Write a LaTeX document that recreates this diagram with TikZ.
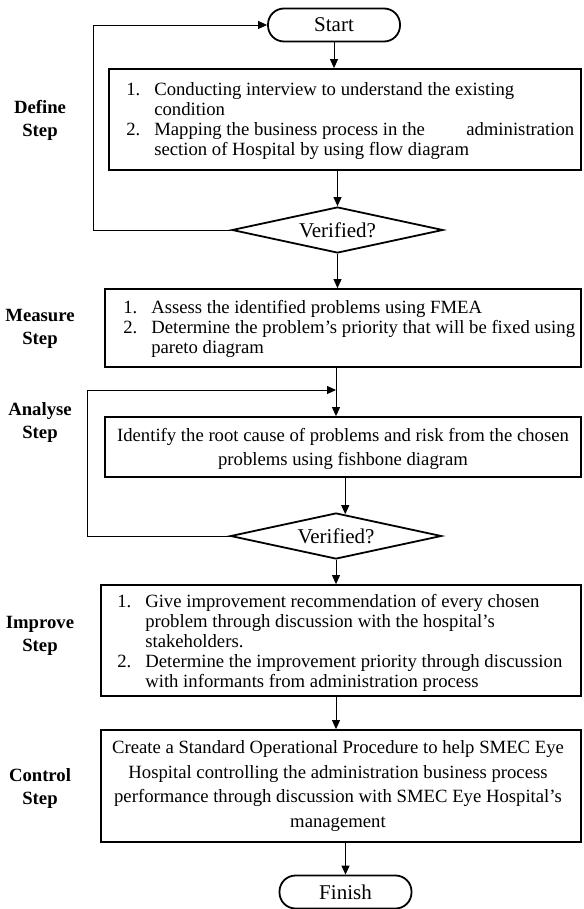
\documentclass[tikz,border=0pt]{standalone}
\usepackage{fontspec}
\setmainfont{Liberation Serif}
\usetikzlibrary{shapes.geometric,arrows.meta}
\newcommand\stepnum[1]{\makebox[28pt][l]{#1}}
\begin{document}
\begin{tikzpicture}[x=1pt,y=-1pt,
  every node/.style={font=\fontsize{18.7}{20}\selectfont},
  procbox/.style={draw,line width=1.8pt,rectangle,inner sep=0pt},
  term/.style={draw,line width=1.8pt,rectangle,rounded corners=16pt,minimum width=132pt,minimum height=33pt,inner sep=0pt,font=\fontsize{21}{24}\selectfont},
  dec/.style={draw,diamond,aspect=4.5,line width=1.8pt,minimum width=211pt,minimum height=46pt,inner sep=0pt,font=\fontsize{21}{24}\selectfont},
  arr/.style={line width=0.9pt,-{Triangle[length=9pt,width=8pt]}},
  lbl/.style={align=center,font=\bfseries\fontsize{18.7}{23}\selectfont},
  listtxt/.style={align=left,inner sep=0pt,anchor=west},
  ctrtxt/.style={align=center,inner sep=0pt}
]
\useasboundingbox (0,0) rectangle (583,909);

% terminals and decisions
\node[term] (start) at (334,25) {Start};
\node[term] (finish) at (345.5,892) {Finish};
\node[dec] (d1) at (337.5,230) {Verified?};
\node[dec] (d2) at (336,536) {Verified?};

% process boxes
\node[procbox,minimum width=472pt,minimum height=101pt] (define) at (345,119.5) {};
\node[procbox,minimum width=476pt,minimum height=78pt] (measure) at (343,328) {};
\node[procbox,minimum width=476pt,minimum height=60pt] (analyse) at (343,447) {};
\node[procbox,minimum width=480pt,minimum height=111pt] (improve) at (341,640.5) {};
\node[procbox,minimum width=480pt,minimum height=112pt] (control) at (341,786) {};

% box texts
\node[listtxt] (definetxt) at ([xshift=18pt,yshift=-2pt]define.west)
  {\stepnum{1.}Conducting interview to understand the existing\\
   \hspace*{28pt}condition\\
   \stepnum{2.}\makebox[420pt][s]{Mapping the business process in the\hfill administration}\\
   \hspace*{28pt}section of Hospital by using flow diagram};
\node[listtxt] (measuretxt) at ([xshift=19pt,yshift=-1pt]measure.west)
  {\stepnum{1.}Assess the identified problems using FMEA\\
   \stepnum{2.}Determine the problem’s priority that will be fixed using\\
   \hspace*{28pt}pareto diagram};
\node[ctrtxt,font=\fontsize{18.7}{24}\selectfont] (analysetxt) at ([yshift=-2pt]analyse.center)
  {Identify the root cause of problems and risk from the chosen\\
   problems using fishbone diagram};
\node[listtxt] (improvetxt) at ([xshift=17pt,yshift=-2pt]improve.west)
  {\stepnum{1.}Give improvement recommendation of every chosen\\
   \hspace*{28pt}problem through discussion with the hospital’s\\
   \hspace*{28pt}stakeholders.\\
   \stepnum{2.}Determine the improvement priority through discussion\\
   \hspace*{28pt}with informants from administration process};
\node[ctrtxt,font=\fontsize{18.7}{24.7}\selectfont] (controltxt) at ([xshift=-3pt]control.center)
  {Create a Standard Operational Procedure to help SMEC Eye\\
   Hospital controlling the administration business process\\
   performance through discussion with SMEC Eye Hospital’s\\
   management};

% step labels
\node[lbl] (ldefine) at (40,120) {Define\\Step};
\node[lbl] (lmeasure) at (40,329) {Measure\\Step};
\node[lbl] (lanalyse) at (40,422) {Analyse\\Step};
\node[lbl] (limprove) at (40,636) {Improve\\Step};
\node[lbl] (lcontrol) at (40,788) {Control\\Step};

% loop corners
\coordinate (l1) at (93,25);
\coordinate (l2) at (87,390);

% connectors
\draw[arr] (start.south) -- (start.south |- define.north);
\draw[arr] (define.south -| d1.north) -- (d1.north);
\draw[arr] (d1.south) -- (d1.south |- measure.north);
\draw[arr] (d1.west) -- (d1.west -| l1) -- (l1) -- (start.west);
\draw[arr] (measure.south -| d2.north) -- (analyse.north -| d2.north);
\draw[arr] (d2.west) -- (d2.west -| l2) -- (l2) -- (l2 -| d2.north);
\draw[arr] (analyse.south -| d2.67) -- (d2.67);
\draw[arr] (d2.south) -- (d2.south |- improve.north);
\draw[arr] (improve.south -| d2.south) -- (control.north -| d2.south);
\draw[arr] (control.south -| finish.north) -- (finish.north);
\end{tikzpicture}
\end{document}
